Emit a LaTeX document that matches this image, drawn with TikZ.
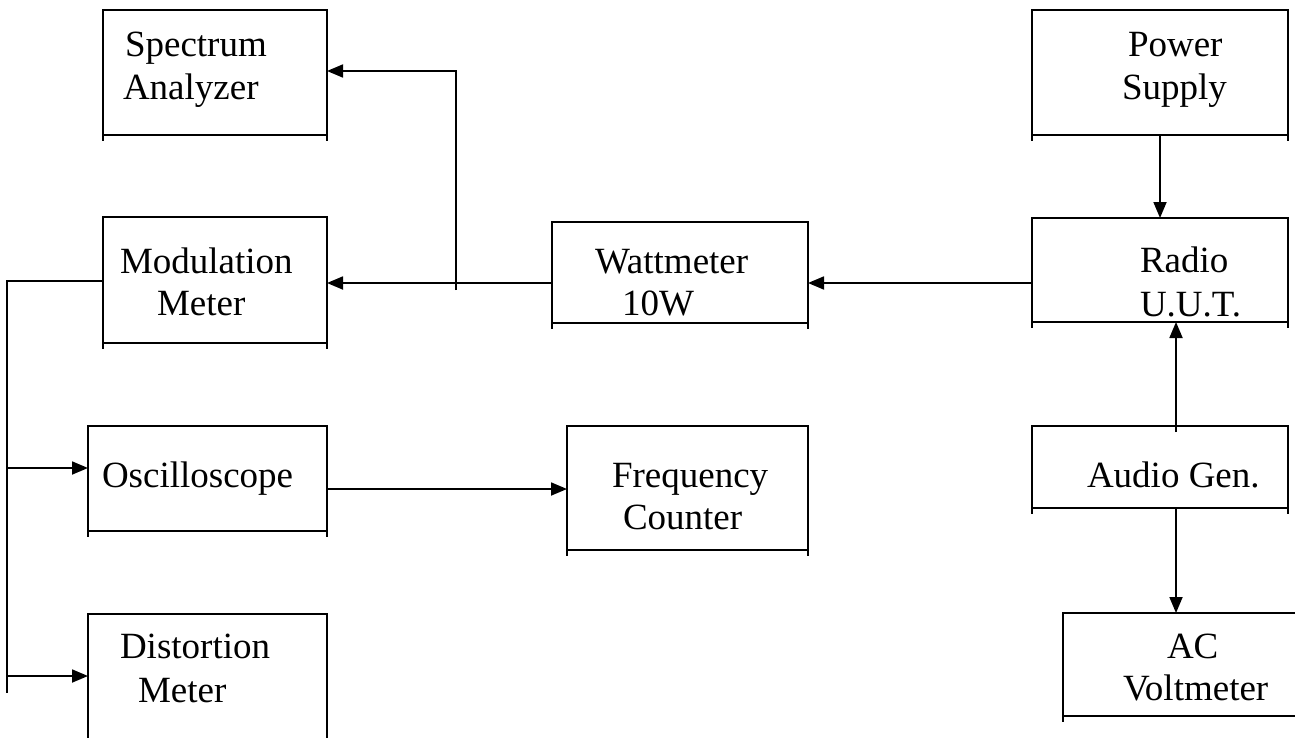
\documentclass[tikz,border=0pt]{standalone}
\usepackage{fontspec}
\setmainfont{Liberation Serif}
\usetikzlibrary{arrows.meta}
\begin{document}
\begin{tikzpicture}[x=0.5pt,y=-0.5pt,
  box/.style={draw,line width=1pt,rectangle,inner sep=0pt,outer sep=0pt},
  lbl/.style={anchor=base west,inner sep=0pt,outer sep=0pt,font=\fontsize{18.5pt}{22pt}\selectfont},
  wire/.style={line width=0.9pt},
  arr/.style={wire,-{Triangle[length=8pt,width=6.5pt]}}]
\clip (0,0) rectangle (1295,738);
\fill[white] (0,0) rectangle (1295,738);
% boxes
\node[box,minimum width=112pt,minimum height=62.5pt] (sa) at (215,72.5) {};
\node[box,minimum width=112pt,minimum height=63pt] (mm) at (215,280) {};
\node[box,minimum width=128pt,minimum height=50.5pt] (wm) at (680,272.5) {};
\node[box,minimum width=128pt,minimum height=62.5pt] (ps) at (1160,72.5) {};
\node[box,minimum width=128pt,minimum height=52pt] (ra) at (1160,270) {};
\node[box,minimum width=119.5pt,minimum height=52.5pt] (os) at (207.5,478.5) {};
\node[box,minimum width=120.5pt,minimum height=62pt] (fc) at (687.5,488) {};
\node[box,minimum width=128pt,minimum height=41pt] (ag) at (1160,467) {};
\node[box,minimum width=128.5pt,minimum height=51.5pt] (ac) at (1191.5,664.5) {};
\node[box,minimum width=119.5pt,minimum height=73pt] (dm) at (207.5,687) {};
% short side extensions below the boxes
\foreach \b in {sa,mm,wm,ps,ra,os,fc,ag,ac}{
  \draw[line width=1pt] (\b.south west) -- ++(0,6);
  \draw[line width=1pt] (\b.south east) -- ++(0,6);
}
% labels
\node[lbl] (t1) at (125,57) {Spectrum};
\node[lbl] (t2) at (123,100) {Analyzer};
\node[lbl] (t3) at (120,273) {Modulation};
\node[lbl] (t4) at (157,315) {Meter};
\node[lbl] (t5) at (595,273) {Wattmeter};
\node[lbl] (t6) at (622,315) {10W};
\node[lbl] (t7) at (1128,57) {Power};
\node[lbl] (t8) at (1122,99) {Supply};
\node[lbl] (t9) at (1140,272) {Radio};
\node[lbl] (t10) at (1140,316) {U.U.T.};
\node[lbl] (t11) at (102,487) {Oscilloscope};
\node[lbl] (t12) at (612,487) {Frequency};
\node[lbl] (t13) at (623,529) {Counter};
\node[lbl] (t14) at (1087,487) {Audio Gen.};
\node[lbl] (t15) at (120,658) {Distortion};
\node[lbl] (t16) at (138,702) {Meter};
\node[lbl] (t17) at (1167,658) {AC};
\node[lbl] (t18) at (1123,700) {Voltmeter};
% connectors
\coordinate (j1) at (456,290);
\coordinate (bus) at (7,693);
\coordinate (agt) at (1176,432);
\draw[arr] (wm.west |- 0,283) -- (mm.east |- 0,283);
\draw[arr] (j1) -- (456,71) -- (sa.east |- 0,71);
\draw[arr] (ra.west |- 0,283) -- (wm.east |- 0,283);
\draw[arr] (ps.south) -- (ra.north);
\draw[arr] (agt) -- (ra.south -| agt);
\draw[arr] (ag.south -| agt) -- (ac.north -| agt);
\draw[wire] (mm.west |- 0,281) -- (7,281) -- (bus);
\draw[arr] (7,468) -- (os.west |- 0,468);
\draw[arr] (7,676) -- (dm.west |- 0,676);
\draw[arr] (os.east |- 0,489) -- (fc.west |- 0,489);
\end{tikzpicture}
\end{document}
